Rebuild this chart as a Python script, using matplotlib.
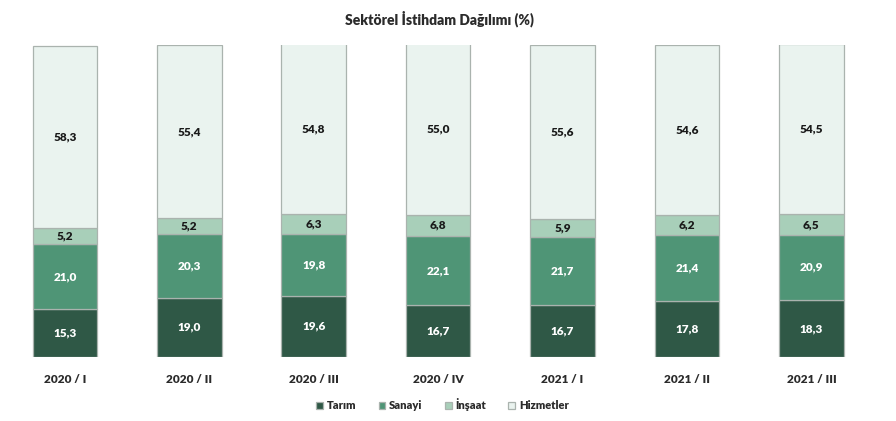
import matplotlib
matplotlib.use("Agg")
import matplotlib.pyplot as plt
import numpy as np

plt.rcParams['font.family'] = ['Lato', 'DejaVu Sans']

quarters = ["2020 / I", "2020 / II", "2020 / III", "2020 / IV", "2021 / I", "2021 / II", "2021 / III"]
tarim = [15.3, 19.0, 19.6, 16.7, 16.7, 17.8, 18.3]
sanayi = [21.0, 20.3, 19.8, 22.1, 21.7, 21.4, 20.9]
insaat = [5.2, 5.2, 6.3, 6.8, 5.9, 6.2, 6.5]
hizmetler = [58.3, 55.4, 54.8, 55.0, 55.6, 54.6, 54.5]

series = [
    ("Tarım", tarim, "#2f5846", "white"),
    ("Sanayi", sanayi, "#4f9576", "white"),
    ("İnşaat", insaat, "#a8cfb9", "#1a1a1a"),
    ("Hizmetler", hizmetler, "#eaf3ef", "#1a1a1a"),
]

fig = plt.figure(figsize=(8.96, 4.21), dpi=100)
ax = fig.add_axes([0.003, 0.152, 0.972, 0.741])

x = np.arange(len(quarters))
bottom = np.zeros(len(quarters))
handles = []
for name, vals, color, tcolor in series:
    vals = np.array(vals)
    bars = ax.bar(x, vals, width=0.52, bottom=bottom, color=color,
                  edgecolor="#aab3ae", linewidth=0.9, label=name)
    handles.append(bars)
    for xi, b, v in zip(x, bottom, vals):
        ax.text(xi, b + v / 2, f"{v:.1f}".replace(".", ","), ha="center", va="center",
                fontsize=8.5, fontweight="heavy", color=tcolor)
    bottom += vals

ax.set_xlim(-0.5, len(quarters) - 0.5)
ax.set_ylim(0, 100)
ax.axis("off")

for xi, q in zip(x, quarters):
    ax.text(xi, -5.5, q, ha="center", va="top", fontsize=8.5, fontweight="heavy",
            color="#2b2b2b")

fig.text(0.491, 0.955, "Sektörel İstihdam Dağılımı (%)", ha="center", va="center",
         fontsize=10, fontweight="heavy", color="#2b2b2b")

leg = fig.legend(handles=handles, labels=[s[0] for s in series], loc="center",
                 bbox_to_anchor=(0.494, 0.038), ncol=4, frameon=False,
                 fontsize=8, handlelength=0.6, handleheight=0.6,
                 columnspacing=2.0, handletextpad=0.35)
for t in leg.get_texts():
    t.set_fontweight("heavy")
    t.set_color("#2b2b2b")

fig.savefig("out.png", dpi=100, facecolor="white")
